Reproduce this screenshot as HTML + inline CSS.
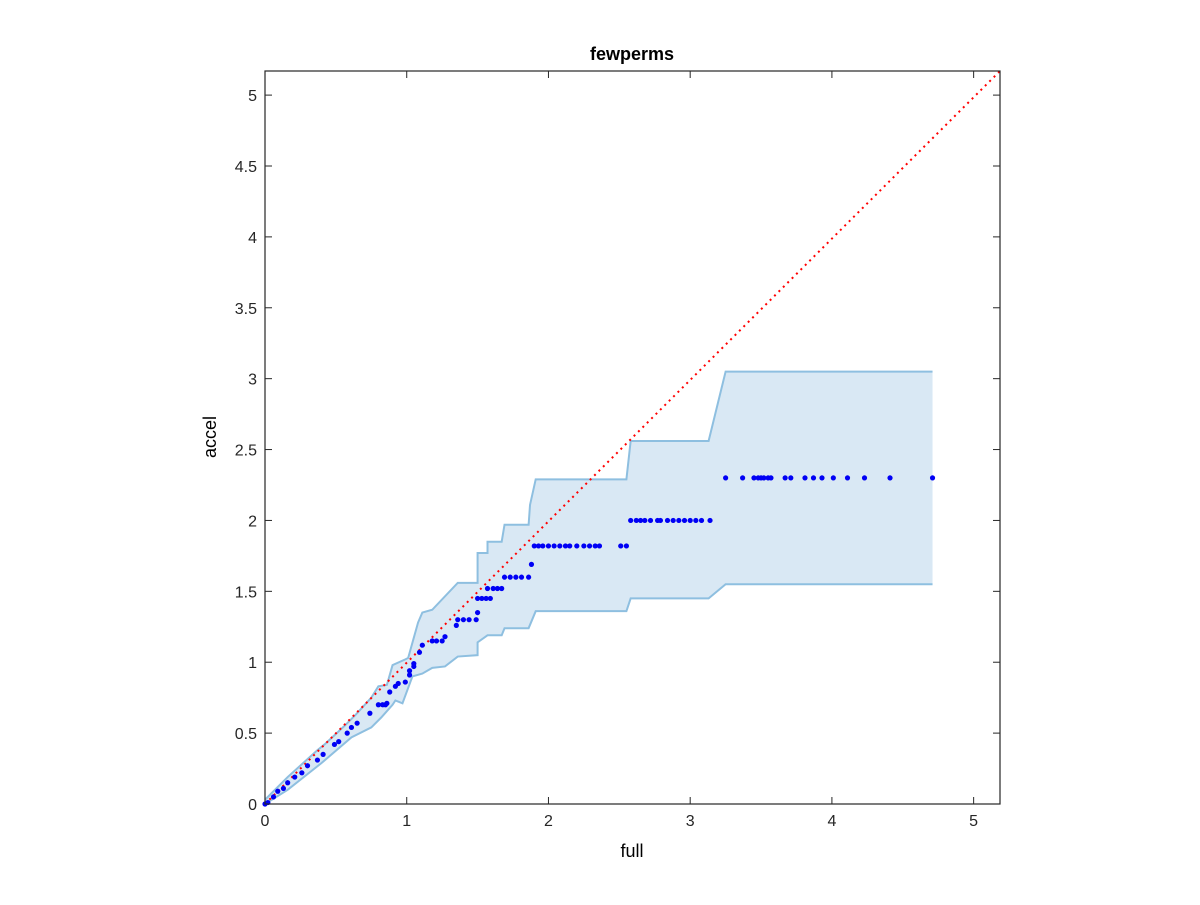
<!DOCTYPE html>
<html><head><meta charset="utf-8"><style>
body{margin:0;background:#fff;font-family:"Liberation Sans",sans-serif}
svg text{font-family:"Liberation Sans",sans-serif}
</style></head><body>
<svg id="chart" width="1200" height="900" xmlns="http://www.w3.org/2000/svg">
<rect width="1200" height="900" fill="#fff"/>
<g id="plot"></g>
<text x="632" y="60" text-anchor="middle" font-size="18" font-weight="bold">fewperms</text>
<text x="632" y="857" text-anchor="middle" font-size="18">full</text>
<text transform="translate(216,437) rotate(-90)" text-anchor="middle" font-size="18">accel</text>
</svg>
<script>
const xTicks=[0,1,2,3,4,5];
const xTickLabels=["0","1","2","3","4","5"];
const yTicks=[0,0.5,1,1.5,2,2.5,3,3.5,4,4.5,5];
const yTickLabels=["0","0.5","1","1.5","2","2.5","3","3.5","4","4.5","5"];
const upperX=[0,0.16,0.37,0.42,0.56,0.64,0.75,0.80,0.86,0.90,0.99,1.01,1.08,1.11,1.18,1.36,1.50,1.50,1.57,1.57,1.67,1.69,1.86,1.87,1.91,2.55,2.58,3.13,3.25,4.71];
const upperY=[0.03,0.19,0.38,0.42,0.55,0.63,0.75,0.83,0.84,0.98,1.02,1.03,1.28,1.35,1.37,1.56,1.56,1.77,1.77,1.85,1.85,1.97,1.97,2.11,2.29,2.29,2.56,2.56,3.05,3.05];
const lowerX=[0,0.16,0.40,0.61,0.75,0.82,0.90,0.92,0.97,1.04,1.11,1.18,1.27,1.36,1.50,1.50,1.57,1.67,1.69,1.86,1.91,2.55,2.58,3.13,3.25,4.71];
const lowerY=[0,0.10,0.29,0.47,0.54,0.61,0.70,0.73,0.71,0.90,0.92,0.96,0.97,1.04,1.05,1.14,1.19,1.19,1.24,1.24,1.36,1.36,1.45,1.45,1.55,1.55];
const ptX=[0,0.02,0.06,0.09,0.13,0.16,0.21,0.26,0.30,0.37,0.41,0.49,0.52,0.58,0.61,0.65,0.74,0.80,0.83,0.85,0.86,0.88,0.92,0.94,0.99,1.02,1.02,1.05,1.05,1.09,1.11,1.18,1.21,1.25,1.27,1.35,1.36,1.40,1.44,1.49,1.50,1.50,1.53,1.56,1.59,1.57,1.61,1.64,1.67,1.69,1.73,1.77,1.81,1.86,1.88,1.90,1.93,1.96,2.00,2.04,2.08,2.12,2.15,2.20,2.25,2.29,2.33,2.36,2.51,2.55,2.58,2.62,2.65,2.68,2.72,2.77,2.79,2.84,2.88,2.92,2.96,3.00,3.04,3.08,3.14,3.25,3.37,3.45,3.48,3.50,3.52,3.55,3.57,3.67,3.71,3.81,3.87,3.93,4.01,4.11,4.23,4.41,4.71];
const ptY=[0,0.01,0.05,0.09,0.11,0.15,0.19,0.22,0.27,0.31,0.35,0.42,0.44,0.50,0.54,0.57,0.64,0.70,0.70,0.70,0.71,0.79,0.83,0.85,0.86,0.91,0.94,0.97,0.99,1.07,1.12,1.15,1.15,1.15,1.18,1.26,1.30,1.30,1.30,1.30,1.35,1.45,1.45,1.45,1.45,1.52,1.52,1.52,1.52,1.60,1.60,1.60,1.60,1.60,1.69,1.82,1.82,1.82,1.82,1.82,1.82,1.82,1.82,1.82,1.82,1.82,1.82,1.82,1.82,1.82,2.00,2.00,2.00,2.00,2.00,2.00,2.00,2.00,2.00,2.00,2.00,2.00,2.00,2.00,2.00,2.30,2.30,2.30,2.30,2.30,2.30,2.30,2.30,2.30,2.30,2.30,2.30,2.30,2.30,2.30,2.30,2.30,2.30];
const L=265,R=1000,T=71,B=804,XMAX=5.186,YMAX=5.17;
const sx=v=>L+v/XMAX*(R-L), sy=v=>B-v/YMAX*(B-T);
const NS="http://www.w3.org/2000/svg", g=document.getElementById('plot');
function mk(t,a){const e=document.createElementNS(NS,t);for(const k in a)e.setAttribute(k,a[k]);g.appendChild(e);return e;}
let d="M"+upperX.map((x,i)=>sx(x)+","+sy(upperY[i])).join("L");
for(let i=lowerX.length-1;i>=0;i--)d+="L"+sx(lowerX[i])+","+sy(lowerY[i]);
const band=mk('path',{d:d+"Z",fill:"#d9e8f4",stroke:"none"});


const up=mk('polyline',{points:upperX.map((x,i)=>sx(x)+","+sy(upperY[i])).join(" "),fill:"none",stroke:"#8ebfe0","stroke-width":2});


const lo=mk('polyline',{points:lowerX.map((x,i)=>sx(x)+","+sy(lowerY[i])).join(" "),fill:"none",stroke:"#8ebfe0","stroke-width":2});


const diag=mk('line',{x1:sx(0),y1:sy(0),x2:sx(XMAX),y2:sy(YMAX),stroke:"#ff0000","stroke-width":2,"stroke-dasharray":"2 4.2"});


ptX.forEach((x,i)=>{const c=mk('circle',{cx:sx(x),cy:sy(ptY[i]),r:2.6,fill:"#0000f5"});

});
const box=mk('rect',{x:L,y:T,width:R-L,height:B-T,fill:"none",stroke:"#262626","stroke-width":1.2});


xTicks.forEach((v,i)=>{const x=sx(v);
mk('line',{x1:x,y1:B,x2:x,y2:B-7,stroke:"#262626"});mk('line',{x1:x,y1:T,x2:x,y2:T+7,stroke:"#262626"});
const t=mk('text',{x:x,y:B+22,"text-anchor":"middle","font-size":16,fill:"#262626"});t.textContent=xTickLabels[i];

});
yTicks.forEach((v,i)=>{const y=sy(v);
mk('line',{x1:L,y1:y,x2:L+7,y2:y,stroke:"#262626"});mk('line',{x1:R,y1:y,x2:R-7,y2:y,stroke:"#262626"});
const t=mk('text',{x:L-8,y:y+6,"text-anchor":"end","font-size":16,fill:"#262626"});t.textContent=yTickLabels[i];

});
</script>
</body></html>
